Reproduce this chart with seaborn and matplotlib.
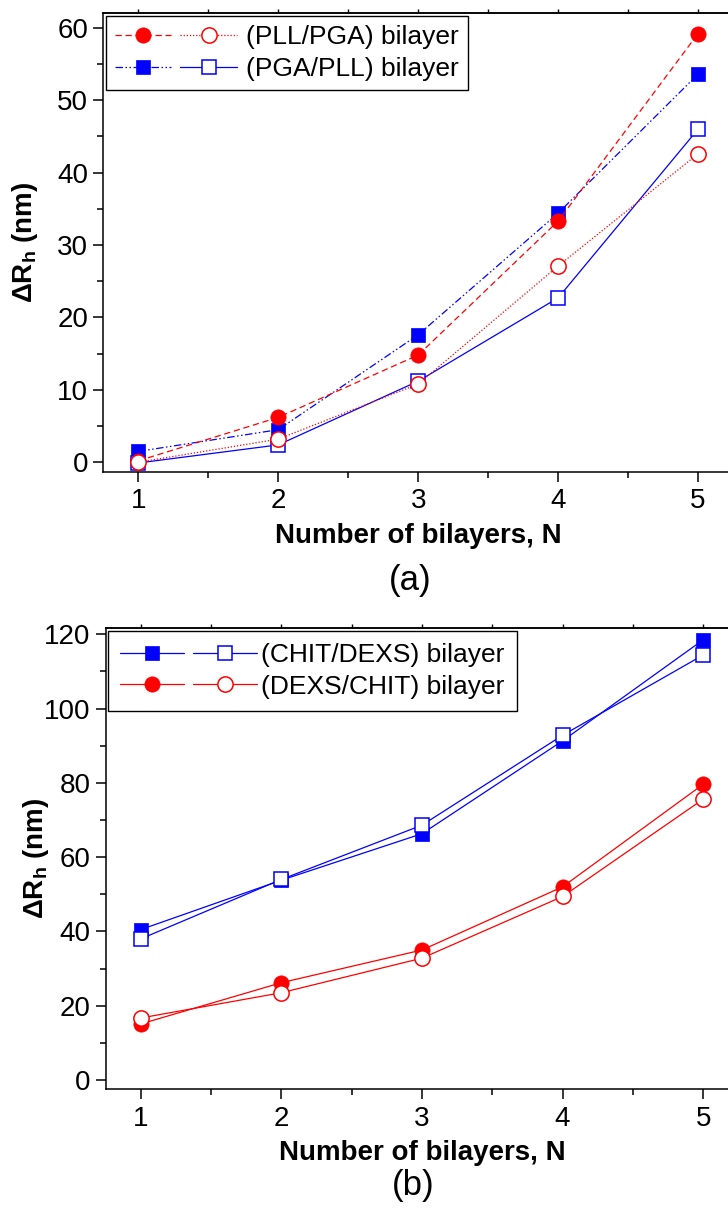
import matplotlib
matplotlib.use("Agg")
import matplotlib.pyplot as plt
import seaborn as sns
import numpy as np
from matplotlib.legend_handler import HandlerTuple
from matplotlib.ticker import MultipleLocator

# ---------------- data ----------------
N = [1, 2, 3, 4, 5]

# panel (a)
pll_pga_filled = [0.2, 6.2, 14.8, 33.3, 59.2]
pll_pga_open = [0.0, 3.2, 10.8, 27.1, 42.6]
pga_pll_filled = [1.5, 4.5, 17.6, 34.4, 53.6]
pga_pll_open = [-0.1, 2.4, 11.2, 22.7, 46.0]
labels_a = ["(PLL/PGA) bilayer", "(PGA/PLL) bilayer"]

# panel (b)
chit_dexs_filled = [40.5, 53.8, 66.3, 91.3, 118.5]
chit_dexs_open = [38.0, 54.0, 68.6, 92.8, 114.4]
dexs_chit_filled = [15.1, 26.2, 35.0, 52.0, 79.6]
dexs_chit_open = [16.7, 23.5, 32.8, 49.4, 75.6]
labels_b = ["(CHIT/DEXS) bilayer", "(DEXS/CHIT) bilayer"]

xticks = [1, 2, 3, 4, 5]
yticks_a = [0, 10, 20, 30, 40, 50, 60]
yticks_b = [0, 20, 40, 60, 80, 100, 120]

# ---------------- style ----------------
sns.set_style("ticks")
plt.rcParams["font.family"] = ["Liberation Sans", "DejaVu Sans"]
plt.rcParams["mathtext.fontset"] = "custom"
plt.rcParams["mathtext.rm"] = "Liberation Sans"
plt.rcParams["mathtext.bf"] = "Liberation Sans:bold"
plt.rcParams["axes.linewidth"] = 1.1
for k in ["text.color", "axes.labelcolor", "xtick.color", "ytick.color",
          "xtick.labelcolor", "ytick.labelcolor", "axes.edgecolor"]:
    plt.rcParams[k] = "black"

RED = "#ff0000"
BLUE = "#0000ff"

fig = plt.figure(figsize=(7.28, 12.11), dpi=100)
ax1 = fig.add_axes([0.1419, 0.6105, 0.865, 0.3785])
ax2 = fig.add_axes([0.1452, 0.1005, 0.869, 0.3807])

MS_C = 11
MS_S = 10
LW = 0.9
DASHDOTDOT = (0, (6, 2, 1.2, 2, 1.2, 2))


def series(ax, y, color, ls, marker, filled):
    ms = MS_C if marker == "o" else MS_S
    sns.lineplot(x=N, y=y, ax=ax, color=color, linestyle=ls, linewidth=LW,
                 marker=marker, markersize=ms,
                 markerfacecolor=color if filled else "white",
                 markeredgecolor=color, markeredgewidth=1.1 if not filled else 0.5,
                 legend=False, errorbar=None)
    return ax.lines[-1]


# panel (a)
l_bf = series(ax1, pga_pll_filled, BLUE, DASHDOTDOT, "s", True)
l_rf = series(ax1, pll_pga_filled, RED, (0, (5, 3)), "o", True)
l_bo = series(ax1, pga_pll_open, BLUE, "-", "s", False)
l_ro = series(ax1, pll_pga_open, RED, (0, (1, 1.5)), "o", False)

# panel (b)
m_bf = series(ax2, chit_dexs_filled, BLUE, "-", "s", True)
m_rf = series(ax2, dexs_chit_filled, RED, "-", "o", True)
m_bo = series(ax2, chit_dexs_open, BLUE, "-", "s", False)
m_ro = series(ax2, dexs_chit_open, RED, "-", "o", False)


def style_axes(ax, ylim, yticks, yminor):
    ax.set_xlim(0.75, 5.25)
    ax.set_ylim(*ylim)
    ax.set_xticks(xticks)
    ax.set_xticklabels([str(t) for t in xticks])
    ax.set_yticks(yticks)
    ax.set_yticklabels([str(t) for t in yticks])
    ax.xaxis.set_minor_locator(MultipleLocator(0.5))
    ax.yaxis.set_minor_locator(MultipleLocator(yminor))
    ax.tick_params(axis="both", which="major", direction="out", length=7,
                   width=1.1, labelsize=20, color="black", pad=4)
    ax.tick_params(axis="both", which="minor", direction="out", length=4,
                   width=1.1, color="black")
    ax.tick_params(axis="x", which="major", pad=5)
    for s in ["top", "left", "bottom"]:
        ax.spines[s].set_visible(True)
        ax.spines[s].set_color("black")
    ax.spines["right"].set_visible(False)
    sec = ax.secondary_xaxis("top")
    sec.set_xticks(xticks)
    sec.set_xticklabels([])
    sec.xaxis.set_minor_locator(MultipleLocator(0.5))
    sec.tick_params(which="both", direction="out", length=3, width=1.0)
    sec.spines["top"].set_linewidth(1.1)
    ax.set_xlabel("Number of bilayers, N", fontsize=20, fontweight="bold",
                  labelpad=6)
    ax.set_ylabel(r"ΔR$_\mathbf{h}$ (nm)", fontsize=20, fontweight="bold")


style_axes(ax1, (-1.3, 62.0), yticks_a, 5)
style_axes(ax2, (-2.5, 121.6), yticks_b, 10)
ax1.yaxis.set_label_coords(-0.100, 0.5)
ax2.yaxis.set_label_coords(-0.086, 0.5)


def make_legend(ax, pairs, labels, tpad, bpad, hl):
    handles = [tuple(p) for p in pairs]
    leg = ax.legend(handles, labels, handler_map={tuple: HandlerTuple(ndivide=None, pad=0.35)},
                    loc="upper left", bbox_to_anchor=(0.0, 1.0), borderaxespad=0.1,
                    fontsize=19, handlelength=hl, handletextpad=tpad,
                    frameon=True, fancybox=False, framealpha=1.0,
                    edgecolor="black", borderpad=bpad, labelspacing=0.3)
    leg.get_frame().set_linewidth(1.0)
    return leg


make_legend(ax1, [(l_rf, l_ro), (l_bf, l_bo)], labels_a, 0.35, 0.35, 4.6)
make_legend(ax2, [(m_bf, m_bo), (m_rf, m_ro)], labels_b, 0.15, 0.45, 5.2)

fig.text(410 / 728, 1 - 581 / 1211, "(a)", ha="center", va="center", fontsize=25)
fig.text(413 / 728, 1 - 1186 / 1211, "(b)", ha="center", va="center", fontsize=25)

fig.savefig("out.png", dpi=100)
